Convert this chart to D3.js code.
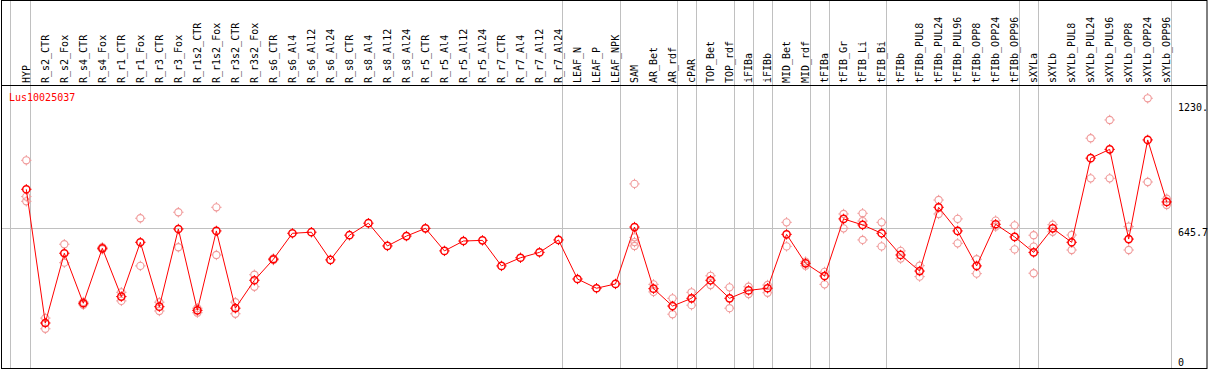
<!DOCTYPE html>
<html><head><meta charset="utf-8">
<script src="https://cdn.jsdelivr.net/npm/d3@7"></script>
<style>html,body{margin:0;padding:0;background:#fff;}svg{display:block;}</style>
</head><body>
<svg id="chart" width="1209" height="370"></svg>
<script>
const geneName = "Lus10025037";
const categories = ["HYP","R_s2_CTR","R_s2_Fox","R_s4_CTR","R_s4_Fox","R_r1_CTR","R_r1_Fox","R_r3_CTR","R_r3_Fox","R_r1s2_CTR","R_r1s2_Fox","R_r3s2_CTR","R_r3s2_Fox","R_s6_CTR","R_s6_Al4","R_s6_Al12","R_s6_Al24","R_s8_CTR","R_s8_Al4","R_s8_Al12","R_s8_Al24","R_r5_CTR","R_r5_Al4","R_r5_Al12","R_r5_Al24","R_r7_CTR","R_r7_Al4","R_r7_Al12","R_r7_Al24","LEAF_N","LEAF_P","LEAF_NPK","SAM","AR_Bet","AR_rdf","cPAR","TOP_Bet","TOP_rdf","iFIBa","iFIBb","MID_Bet","MID_rdf","tFIBa","tFIB_Gr","tFIB_Li","tFIB_Bi","tFIBb","tFIBb_PUL8","tFIBb_PUL24","tFIBb_PUL96","tFIBb_OPP8","tFIBb_OPP24","tFIBb_OPP96","sXYLa","sXYLb","sXYLb_PUL8","sXYLb_PUL24","sXYLb_PUL96","sXYLb_OPP8","sXYLb_OPP24","sXYLb_OPP96"];
const means = [828,205,530,297,553,328,581,281,643,264,634,274,404,502,623,628,499,614,670,564,610,646,541,587,590,471,509,534,592,410,367,387,652,365,284,320,404,320,357,367,618,483,424,690,662,623,522,447,744,634,471,665,606,534,646,581,973,1014,596,1058,769];
const replicates = [[963,794,772],[228,178],[572,486],[290,303],[548,558],[348,308],[693,471],[302,261],[721,558],[274,253],[744,522],[302,248],[430,374],[498,506],[],[],[],[],[],[],[],[],[],[],[],[],[],[],[],[],[],[],[853,604,582,564],[385,350],[320,246],[348,288],[425,382],[371,274],[374,340],[382,346],[674,562],[491,472],[443,385],[713,646],[716,680,592],[674,562],[541,505],[472,421],[778,713],[690,576],[502,435],[682,654],[660,548],[614,561,437],[663,630],[615,545],[1066,879],[1151,879],[654,545],[1252,862],[784,755]];
const groupEnds = ["HYP","R_r7_Al24","LEAF_NPK","AR_rdf","cPAR","TOP_rdf","iFIBa","iFIBb","MID_rdf","tFIBa","tFIB_Bi","tFIBb_OPP96","sXYLa","sXYLb_OPP96"];
const yMaxValue = 1230;
const refValue = 645.7;
const yTickLabels = ["1230.","645.7","0"];

const svg = d3.select("#chart");
const W = 1209, H = 370;
const font = "'DejaVu Sans Mono', monospace";
const x = d3.scalePoint().domain(categories).range([26.3, 1166.7]);
const y = d3.scaleLinear().domain([0, yMaxValue]).range([367, 103]);

// gray separators
const gsep = svg.append("g").attr("stroke", "#c0c0c0").attr("stroke-width", 1);
gsep.append("line").attr("x1", 10.5).attr("x2", 10.5).attr("y1", 1).attr("y2", 368);
gsep.selectAll("line.g").data(groupEnds).enter().append("line")
  .attr("x1", d => Math.round(x(d) + 4) + 0.5).attr("x2", d => Math.round(x(d) + 4) + 0.5)
  .attr("y1", 1).attr("y2", 368);
gsep.append("line").attr("x1", 2).attr("x2", Math.round(x(categories[categories.length-1]) + 4))
  .attr("y1", Math.round(y(refValue)) + 0.5).attr("y2", Math.round(y(refValue)) + 0.5);

// header separator and frame
svg.append("line").attr("x1", 1).attr("x2", 1207).attr("y1", 85.5).attr("y2", 85.5).attr("stroke", "#000");
svg.append("rect").attr("x", 1.5).attr("y", 0.5).attr("width", 1205.5).attr("height", 368)
  .attr("fill", "none").attr("stroke", "#000");

// column labels
svg.append("g").selectAll("text").data(categories).enter().append("text")
  .attr("transform", d => `translate(${x(d) + 3.5},83) rotate(-90)`)
  .attr("font-family", font).attr("font-size", "10px").attr("fill", "#000")
  .text(d => d);

// title
svg.append("text").attr("x", 9).attr("y", 101).attr("font-family", font).attr("font-size", "10px")
  .attr("fill", "#ff0000").text(geneName);

// right labels
const tickVals = [yMaxValue, refValue, 0];
svg.append("g").selectAll("text").data(tickVals).enter().append("text")
  .attr("x", 1178).attr("y", d => Math.min(y(d) + 8, 365.5))
  .attr("font-family", font).attr("font-size", "10px").attr("fill", "#000")
  .text((d, i) => yTickLabels[i]);

// marker generator
function marker(g, cx, cy, color, sw) {
  g.append("circle").attr("cx", cx).attr("cy", cy).attr("r", 3.6)
    .attr("fill", "none").attr("stroke", color).attr("stroke-width", sw);
  const t = [[0,-1],[0,1],[-1,0],[1,0]];
  t.forEach(([dx, dy]) => {
    g.append("line").attr("x1", cx + dx*3.6).attr("y1", cy + dy*3.6)
      .attr("x2", cx + dx*5.2).attr("y2", cy + dy*5.2)
      .attr("stroke", color).attr("stroke-width", 1);
  });
}

// replicates
const gRep = svg.append("g");
categories.forEach((c, i) => {
  replicates[i].forEach(v => marker(gRep, x(c), y(v), "#f09a9a", 1.1));
});

// mean line
svg.append("path").datum(means)
  .attr("d", d3.line().x((d, i) => x(categories[i])).y(d => y(d)))
  .attr("fill", "none").attr("stroke", "#ff0000").attr("stroke-width", 1);

// means
const gMean = svg.append("g");
means.forEach((v, i) => marker(gMean, x(categories[i]), y(v), "#ff0000", 1.5));
</script>
</body></html>
